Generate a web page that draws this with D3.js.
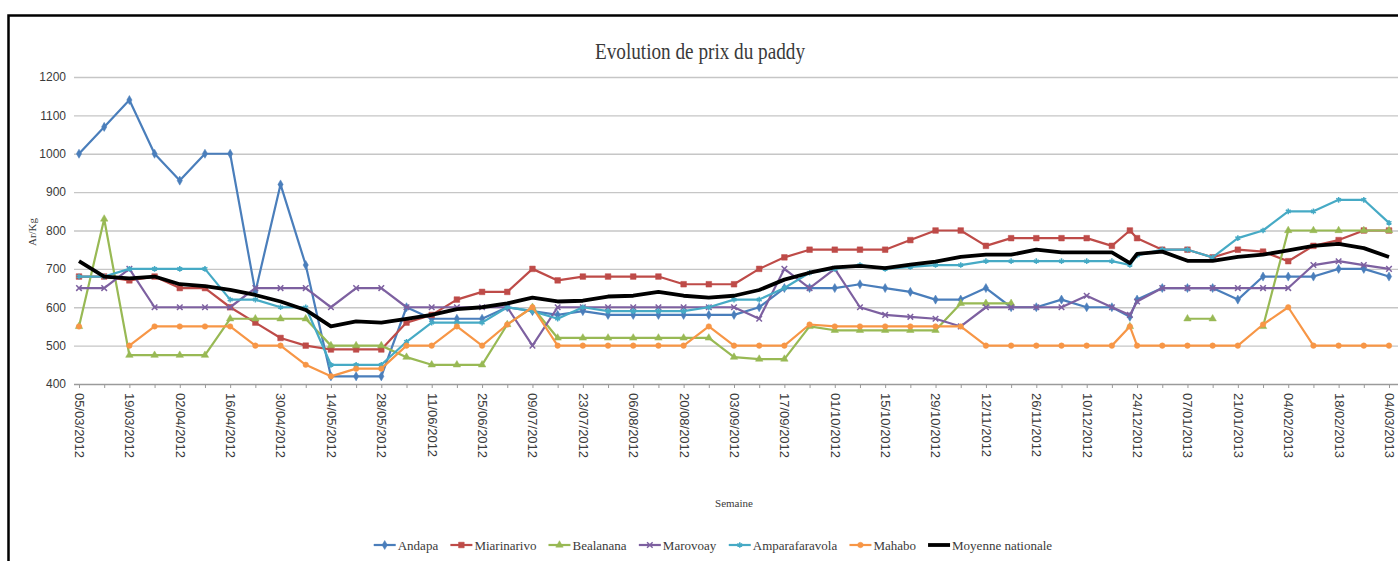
<!DOCTYPE html>
<html>
<head>
<meta charset="utf-8">
<script src="https://cdn.jsdelivr.net/npm/d3@7"></script>
<style>
    html, body { margin: 0; padding: 0; background: #fff; }
    #chart { width: 1398px; height: 561px; overflow: hidden; }
</style>
</head>
<body>
<div id="chart"></div>
<script>
// Dates of the weekly price records (one extra record on 22/12/2012)
const weeks = [
    '05/03/2012', '12/03/2012', '19/03/2012', '26/03/2012', '02/04/2012', '09/04/2012', '16/04/2012',
    '23/04/2012', '30/04/2012', '07/05/2012', '14/05/2012', '21/05/2012', '28/05/2012', '04/06/2012',
    '11/06/2012', '18/06/2012', '25/06/2012', '02/07/2012', '09/07/2012', '16/07/2012', '23/07/2012',
    '30/07/2012', '06/08/2012', '13/08/2012', '20/08/2012', '27/08/2012', '03/09/2012', '10/09/2012',
    '17/09/2012', '24/09/2012', '01/10/2012', '08/10/2012', '15/10/2012', '22/10/2012', '29/10/2012',
    '05/11/2012', '12/11/2012', '19/11/2012', '26/11/2012', '03/12/2012', '10/12/2012', '17/12/2012',
    '22/12/2012', '24/12/2012', '31/12/2012', '07/01/2013', '14/01/2013', '21/01/2013', '28/01/2013',
    '04/02/2013', '11/02/2013', '18/02/2013', '25/02/2013', '04/03/2013'
];

// Labelled dates on the x axis
const tickLabels = [
    '05/03/2012', '19/03/2012', '02/04/2012', '16/04/2012', '30/04/2012', '14/05/2012', '28/05/2012',
    '11/06/2012', '25/06/2012', '09/07/2012', '23/07/2012', '06/08/2012', '20/08/2012', '03/09/2012',
    '17/09/2012', '01/10/2012', '15/10/2012', '29/10/2012', '12/11/2012', '26/11/2012', '10/12/2012',
    '24/12/2012', '07/01/2013', '21/01/2013', '04/02/2013', '18/02/2013', '04/03/2013'
];

const yTicks = [400, 500, 600, 700, 800, 900, 1000, 1100, 1200];

const andapa = [1000, 1070, 1140, 1000, 930, 1000, 1000, 640, 920, 710, 420, 420, 420, 600,
    570, 570, 570, 600, 590, 580, 590, 580, 580, 580, 580, 580, 580, 600,
    650, 650, 650, 660, 650, 640, 620, 620, 650, 600, 600, 620, 600, 600,
    575, 620, 650, 650, 650, 620, 680, 680, 680, 700, 700, 680];

const miarinarivo = [680, 680, 670, 680, 650, 650, 600, 560, 520, 500, 490, 490, 490, 560,
    580, 620, 640, 640, 700, 670, 680, 680, 680, 680, 660, 660, 660, 700,
    730, 750, 750, 750, 750, 775, 800, 800, 760, 780, 780, 780, 780, 760,
    800, 780, 750, 750, 730, 750, 745, 720, 760, 775, 800, 800];

const bealanana = [550, 830, 475, 475, 475, 475, 570, 570, 570, 570, 500, 500, 500, 470,
    450, 450, 450, 555, 600, 520, 520, 520, 520, 520, 520, 520, 470, 465,
    465, 550, 540, 540, 540, 540, 540, 610, 610, 610, null, null, null, null,
    550, null, null, 570, 570, null, 550, 800, 800, 800, 800, 800];

const marovoay = [650, 650, 700, 600, 600, 600, 600, 650, 650, 650, 600, 650, 650, 600,
    600, 600, 600, 600, 500, 600, 600, 600, 600, 600, 600, 600, 600, 570,
    700, 650, 700, 600, 580, 575, 570, 550, 600, 600, 600, 600, 630, 600,
    580, 615, 650, 650, 650, 650, 650, 650, 710, 720, 710, 700];

const amparafaravola = [680, 680, 700, 700, 700, 700, 620, 620, 600, 600, 450, 450, 450, 510,
    560, 560, 560, 600, 590, 570, 600, 590, 590, 590, 590, 600, 620, 620,
    650, 690, 700, 710, 700, 705, 710, 710, 720, 720, 720, 720, 720, 720,
    710, 735, 750, 750, 730, 780, 800, 850, 850, 880, 880, 820];

const mahabo = [550, null, 500, 550, 550, 550, 550, 500, 500, 450, 420, 440, 440, 500,
    500, 550, 500, 555, 600, 500, 500, 500, 500, 500, 500, 550, 500, 500,
    500, 555, 550, 550, 550, 550, 550, 550, 500, 500, 500, 500, 500, 500,
    550, 500, 500, 500, 500, 500, 555, 600, 500, 500, 500, 500];

const moyenneNationale = [720, 680, 675, 680, 660, 655, 645, 632, 615, 593, 550, 563, 560, 570,
    580, 595, 600, 610, 625, 615, 617, 628, 630, 640, 630, 625, 630, 645,
    672, 690, 704, 708, 702, 711, 719, 731, 737, 737, 750, 743, 743, 743,
    715, 739, 745, 721, 721, 731, 737, 748, 760, 765, 754, 731];

const seriesNames = ['Andapa', 'Miarinarivo', 'Bealanana', 'Marovoay', 'Amparafaravola', 'Mahabo', 'Moyenne nationale'];
const seriesValues = [andapa, miarinarivo, bealanana, marovoay, amparafaravola, mahabo, moyenneNationale];

class Chart {
    constructor() {
        const attrs = {
            id: "ID" + Math.floor(Math.random() * 1000000),
            svgWidth: 1398,
            svgHeight: 561,
            marginTop: 77,
            marginBottom: 177,
            marginRight: 9,
            marginLeft: 79,
            colors: {
                grid: '#c6c6c6',
                axis: '#9a9a9a',
                text: '#3a3a3a'
            },
            seriesStyle: [
                { color: '#4A7EBB', symbol: d3.symbolDiamond, size: 24, width: 2.2 },
                { color: '#BE4B48', symbol: d3.symbolSquare, size: 32, width: 2.2 },
                { color: '#98B954', symbol: d3.symbolTriangle, size: 24, width: 2.2 },
                { color: '#7D60A0', symbol: d3.symbolX, size: 22, width: 2.2 },
                { color: '#46AAC5', symbol: d3.symbolAsterisk, size: 22, width: 2.2 },
                { color: '#F79646', symbol: d3.symbolCircle, size: 24, width: 2.2 },
                { color: '#000000', symbol: null, size: 0, width: 3.8 }
            ],
            container: "#chart",
            defaultFont: "'Liberation Serif', 'Times New Roman', serif",
            data: null,
            chartWidth: null,
            chartHeight: null
        };

        this.getState = () => attrs;
        this.setState = (d) => Object.assign(attrs, d);

        Object.keys(attrs).forEach((key) => {
            this[key] = function (_) {
                if (!arguments.length) {
                    return attrs[key];
                }
                attrs[key] = _;
                return this;
            };
        });

        this.initializeEnterExitUpdatePattern();
    }

    render() {
        this.setDynamicContainer();
        this.calculateProperties();
        this.drawSvgAndWrappers();
        this.drawAxes();
        this.drawLines();
        this.drawTexts();
        this.drawLegend();
        return this;
    }

    calculateProperties() {
        const { marginLeft, marginTop, marginRight, marginBottom, svgWidth, svgHeight } = this.getState();
        const calc = {
            chartLeftMargin: marginLeft,
            chartTopMargin: marginTop
        };
        const chartWidth = svgWidth - marginRight - marginLeft;
        const chartHeight = svgHeight - marginBottom - marginTop;
        this.setState({ calc, chartWidth, chartHeight });
    }

    drawSvgAndWrappers() {
        const { d3Container, svgWidth, svgHeight, defaultFont, calc } = this.getState();

        const svg = d3Container._add({ tag: "svg", className: "svg-chart-container" })
            .attr("width", svgWidth)
            .attr("height", svgHeight)
            .attr("font-family", defaultFont)
            .style('display', 'block');

        // outer frame of the chart (cut on the right and bottom)
        svg._add({ tag: 'rect', className: 'frame' })
            .attr('x', 8.5)
            .attr('y', 15.5)
            .attr('width', 1500)
            .attr('height', 700)
            .attr('fill', 'white')
            .attr('stroke', '#000')
            .attr('stroke-width', 2.5);

        const chart = svg._add({ tag: "g", className: "chart" })
            .attr("transform", "translate(" + calc.chartLeftMargin + "," + calc.chartTopMargin + ")");

        this.setState({ chart, svg });
    }

    drawAxes() {
        const { chart, colors, data, chartWidth, chartHeight } = this.getState();

        const scaleX = d3.scaleTime()
            .domain(d3.extent(data.dates))
            .range([0, chartWidth]);

        const scaleY = d3.scaleLinear()
            .domain([yTicks[0], yTicks[yTicks.length - 1]])
            .range([chartHeight, 0]);

        // Horizontal grid
        const yAxis = d3.axisLeft(scaleY)
            .tickValues(yTicks)
            .tickSize(-(chartWidth + 15))
            .tickFormat(d => d);

        const yAxisWrapper = chart._add({ tag: 'g', className: 'y-axis-group' })
            .attr('transform', 'translate(-5,0)');
        yAxisWrapper.call(yAxis);
        yAxisWrapper.selectAll('.domain').remove();
        yAxisWrapper.selectAll('.tick line')
            .attr('stroke', d => d === yTicks[0] ? colors.axis : colors.grid)
            .attr('stroke-width', 1.3);
        yAxisWrapper.selectAll('text')
            .attr('x', -8)
            .attr('font-size', 12)
            .attr('fill', colors.text);

        // Weekly minor ticks
        const minorAxis = d3.axisBottom(scaleX)
            .tickValues(scaleX.ticks(d3.timeMonday.every(1)))
            .tickSize(4)
            .tickFormat('');
        const minorWrapper = chart._add({ tag: 'g', className: 'x-minor-group' })
            .attr('transform', `translate(0,${chartHeight})`);
        minorWrapper.call(minorAxis);
        minorWrapper.selectAll('.domain').remove();
        minorWrapper.selectAll('.tick line').attr('stroke', colors.axis);

        // Date labels
        const xAxis = d3.axisBottom(scaleX)
            .tickValues(data.tickDates)
            .tickSize(0)
            .tickFormat(d3.timeFormat('%d/%m/%Y'));
        const xAxisWrapper = chart._add({ tag: 'g', className: 'x-axis-group' })
            .attr('transform', `translate(0,${chartHeight})`);
        xAxisWrapper.call(xAxis);
        xAxisWrapper.selectAll('.domain').remove();
        xAxisWrapper.selectAll('text')
            .attr('y', 0)
            .attr('x', 9)
            .attr('dy', '0.35em')
            .attr('transform', 'rotate(90)')
            .attr('font-size', 13)
            .attr('fill', colors.text)
            .style('text-anchor', 'start');

        this.setState({ scaleX, scaleY });
    }

    drawLines() {
        const { chart, data, scaleX, scaleY, seriesStyle } = this.getState();

        const line = d3.line()
            .defined(d => d.value !== null)
            .x(d => scaleX(d.date))
            .y(d => scaleY(d.value));

        const seriesWrappers = chart._add({
            tag: 'g',
            className: 'series',
            data: data.series
        });

        seriesWrappers._add({ tag: 'path', className: 'series-line', data: d => [d] })
            .attr('fill', 'none')
            .attr('stroke', d => seriesStyle[d.index].color)
            .attr('stroke-width', d => seriesStyle[d.index].width)
            .attr('stroke-linejoin', 'round')
            .attr('d', d => line(d.values));

        seriesWrappers._add({
            tag: 'path',
            className: 'series-marker',
            data: d => seriesStyle[d.index].symbol
                ? d.values.filter(v => v.value !== null).map(v => Object.assign({ index: d.index }, v))
                : []
        })
            .attr('transform', d => `translate(${scaleX(d.date)},${scaleY(d.value)})`)
            .attr('d', d => d3.symbol(seriesStyle[d.index].symbol, seriesStyle[d.index].size)())
            .attr('fill', d => seriesStyle[d.index].color)
            .attr('stroke', d => seriesStyle[d.index].color)
            .attr('stroke-width', d => (d.index === 3 || d.index === 4) ? 1.5 : 0.5);
    }

    drawTexts() {
        const { svg, colors, calc, chartWidth } = this.getState();

        svg._add({ tag: 'text', className: 'chart-title' })
            .attr('transform', 'translate(700,59) scale(0.8,1)')
            .attr('text-anchor', 'middle')
            .attr('font-size', 24)
            .attr('fill', colors.text)
            .text('Evolution de prix du paddy');

        svg._add({ tag: 'text', className: 'y-title' })
            .attr('transform', 'translate(36,232) rotate(-90)')
            .attr('text-anchor', 'middle')
            .attr('font-size', 11)
            .attr('fill', colors.text)
            .text('Ar/Kg');

        svg._add({ tag: 'text', className: 'x-title' })
            .attr('x', calc.chartLeftMargin + chartWidth / 2)
            .attr('y', 507)
            .attr('text-anchor', 'middle')
            .attr('font-size', 11)
            .attr('fill', colors.text)
            .text('Semaine');
    }

    drawLegend() {
        const { svg, colors, data, seriesStyle } = this.getState();

        const legend = svg._add({ tag: 'g', className: 'legend' });
        const items = legend._add({ tag: 'g', className: 'legend-item', data: data.series });

        items._add({ tag: 'line', className: 'legend-line', data: d => [d] })
            .attr('x1', 0).attr('x2', 22)
            .attr('y1', 0).attr('y2', 0)
            .attr('stroke', d => seriesStyle[d.index].color)
            .attr('stroke-width', d => seriesStyle[d.index].width);

        items._add({ tag: 'path', className: 'legend-marker', data: d => seriesStyle[d.index].symbol ? [d] : [] })
            .attr('transform', 'translate(11,0)')
            .attr('d', d => d3.symbol(seriesStyle[d.index].symbol, seriesStyle[d.index].size)())
            .attr('fill', d => seriesStyle[d.index].color)
            .attr('stroke', d => seriesStyle[d.index].color)
            .attr('stroke-width', d => (d.index === 3 || d.index === 4) ? 1.5 : 0.5);

        items._add({ tag: 'text', className: 'legend-text', data: d => [d] })
            .attr('x', 24)
            .attr('dy', '0.35em')
            .attr('font-size', 13)
            .attr('fill', colors.text)
            .text(d => d.name);

        // lay items out in a row centred under the plot
        let offset = 0;
        items.each(function () {
            const w = this.getBBox().width;
            d3.select(this).attr('transform', `translate(${offset},0)`);
            offset += w + 12;
        });
        const total = offset - 12;
        legend.attr('transform', `translate(${713 - total / 2},545)`);
    }

    initializeEnterExitUpdatePattern() {
        d3.selection.prototype._add = function (params) {
            var container = this;
            var className = params.className;
            var elementTag = params.tag;
            var data = params.data || [className];
            var selection = container.selectAll("." + className).data(data, (d, i) => {
                if (typeof d === "object" && d && d.id) {
                    return d.id;
                }
                return i;
            });
            selection.exit().remove();
            const enterSelection = selection.enter().append(elementTag);
            selection = enterSelection.merge(selection);
            selection.attr("class", className);
            return selection;
        };
    }

    setDynamicContainer() {
        const attrs = this.getState();
        var d3Container = d3.select(attrs.container);
        this.setState({ d3Container });
    }
}

const parseDate = d3.timeParse('%d/%m/%Y');
const dates = weeks.map(parseDate);

const chartData = {
    dates: dates,
    tickDates: tickLabels.map(parseDate),
    series: seriesNames.map((name, index) => ({
        name: name,
        index: index,
        values: seriesValues[index].map((value, i) => ({ date: dates[i], value: value }))
    }))
};

const chart = new Chart()
    .container('#chart')
    .data(chartData)
    .render();
</script>
</body>
</html>
